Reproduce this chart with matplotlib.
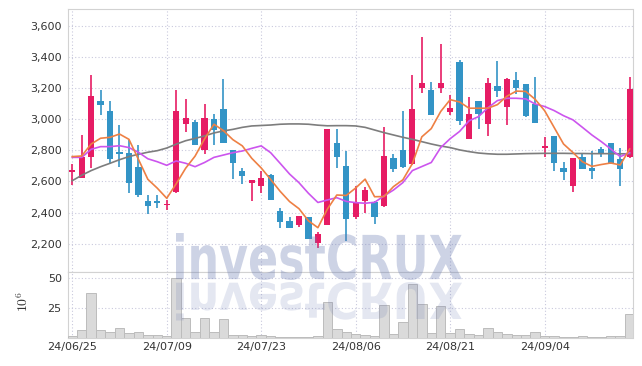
import matplotlib
matplotlib.use('Agg')
import matplotlib.pyplot as plt
from matplotlib.textpath import TextPath
from matplotlib.patches import PathPatch
from matplotlib.font_manager import FontProperties
from matplotlib.transforms import Affine2D
import numpy as np

# daily candles, 2024-06-25 .. 2024-09-20 (trading days only)
opens = [2660, 2625, 2760, 3115, 3055, 2785, 2785, 2695, 2475, 2475,
         2447, 2530, 2972, 2983, 2800, 3000, 3065, 2803, 2667, 2593,
         2573, 2642, 2410, 2346, 2322, 2370, 2207, 2322, 2850, 2702,
         2374, 2477, 2470, 2445, 2749, 2803, 2710, 3199, 3188, 3199,
         3049, 3366, 2871, 3118, 2972, 3214, 3081, 3253, 3227, 3098,
         2815, 2893, 2685, 2573, 2755, 2685, 2807, 2846, 2743, 2755]
highs = [2710, 2900, 3285, 3190, 3120, 2960, 2865, 2835, 2515, 2510,
         2480, 3185, 3128, 2995, 3095, 3032, 3260, 2805, 2685, 2610,
         2670, 2648, 2428, 2370, 2380, 2372, 2273, 2940, 2936, 2798,
         2573, 2562, 2472, 2953, 2775, 3053, 3285, 3527, 3238, 3482,
         3156, 3381, 3146, 3120, 3263, 3375, 3268, 3302, 3229, 3274,
         2888, 2895, 2728, 2750, 2785, 2798, 2824, 2848, 2813, 3274]
lows = [2580, 2620, 2685, 3025, 2715, 2695, 2525, 2500, 2390, 2430,
        2418, 2525, 2915, 2835, 2777, 2833, 2848, 2618, 2582, 2475,
        2528, 2480, 2300, 2300, 2310, 2228, 2170, 2318, 2685, 2217,
        2359, 2400, 2327, 2434, 2663, 2688, 2708, 3171, 3028, 3171,
        3028, 2963, 2870, 2935, 2893, 3141, 2963, 3163, 3013, 2977,
        2760, 2667, 2610, 2530, 2678, 2614, 2755, 2713, 2571, 2753]
closes = [2675, 2760, 3150, 3090, 2745, 2778, 2590, 2510, 2445, 2460,
          2455, 3055, 3008, 2837, 3008, 2930, 2850, 2722, 2637, 2607,
          2620, 2481, 2342, 2303, 2378, 2230, 2260, 2938, 2760, 2360,
          2470, 2545, 2374, 2764, 2683, 2690, 3066, 3231, 3030, 3231,
          3070, 2991, 3032, 3032, 3231, 3184, 3259, 3199, 3021, 2978,
          2820, 2721, 2663, 2749, 2680, 2670, 2781, 2717, 2680, 3195]

# volume in millions
volume = [1.4, 6.4, 37.4, 6.4, 4.4, 8.0, 3.5, 4.4, 1.8, 1.8,
          1.0, 50.0, 16.3, 4.4, 16.3, 4.4, 15.4, 2.5, 1.8, 1.4,
          1.8, 1.2, 0.8, 0.7, 0.6, 0.8, 0.9, 29.8, 6.9, 4.7,
          3.0, 2.1, 1.3, 27.5, 3.0, 13.2, 45.4, 28.3, 4.1, 27.1,
          3.5, 6.9, 3.0, 2.1, 8.0, 4.7, 3.0, 1.8, 1.8, 4.4,
          1.3, 1.0, 0.6, 0.8, 0.9, 0.8, 0.8, 1.0, 1.6, 19.7]

# moving averages as drawn
ma5 = [2760, 2764, 2841, 2878, 2884, 2905, 2871, 2743, 2614, 2557,
       2492, 2585, 2685, 2763, 2873, 2968, 2927, 2869, 2829, 2749,
       2687, 2613, 2537, 2471, 2425, 2347, 2303, 2422, 2513, 2510,
       2558, 2615, 2502, 2503, 2567, 2611, 2715, 2887, 2940, 3050,
       3126, 3111, 3071, 3071, 3071, 3094, 3148, 3181, 3179, 3128,
       3055, 2948, 2841, 2786, 2727, 2697, 2709, 2719, 2706, 2809]
ma20 = [2755, 2755, 2807, 2824, 2824, 2830, 2818, 2788, 2746, 2727,
        2704, 2732, 2717, 2695, 2722, 2755, 2770, 2785, 2796, 2813,
        2829, 2785, 2717, 2648, 2592, 2524, 2465, 2481, 2496, 2472,
        2464, 2460, 2466, 2507, 2545, 2593, 2670, 2696, 2722, 2818,
        2875, 2922, 2990, 3017, 3074, 3120, 3135, 3135, 3131, 3098,
        3082, 3056, 3023, 2996, 2948, 2899, 2856, 2809, 2760, 2785]
ma60 = [2605, 2640, 2670, 2695, 2717, 2740, 2760, 2775, 2788, 2798,
        2815, 2840, 2862, 2877, 2893, 2912, 2925, 2935, 2948, 2957,
        2960, 2963, 2968, 2970, 2970, 2968, 2962, 2958, 2959, 2959,
        2957, 2948, 2931, 2914, 2899, 2884, 2871, 2856, 2841, 2828,
        2818, 2803, 2792, 2783, 2778, 2775, 2775, 2777, 2779, 2780,
        2781, 2781, 2781, 2780, 2780, 2779, 2779, 2779, 2778, 2778]

tick_idx = [0, 10, 20, 30, 40, 50]
tick_labels = ['24/06/25', '24/07/09', '24/07/23', '24/08/06', '24/08/21', '24/09/04']

PINK = '#e61c64'
BLUE = '#3394c6'
GRID = '#c9c9dd'
SPINE = '#d2d2d2'

plt.rcParams['mathtext.fontset'] = 'cm'

W, H = 642, 366
fig = plt.figure(figsize=(W / 100, H / 100), dpi=100)
ax = fig.add_axes([68 / W, 1 - 272 / H, 564.5 / W, (272 - 9.3) / H])
axv = fig.add_axes([68 / W, 1 - 337.5 / H, 564.5 / W, 65.5 / H], sharex=ax)

x = np.arange(len(closes))
o = np.array(opens)
c = np.array(closes)
cols = np.where(c >= o, PINK, BLUE)

# candles
ax.vlines(x, lows, highs, colors=cols, linewidth=1.2, zorder=3)
ax.bar(x, np.maximum(np.abs(c - o), 10), bottom=np.minimum(o, c), width=0.66,
       color=cols, zorder=4)

# moving averages
ax.plot(x, ma60, color='#7d7d7d', linewidth=1.2, zorder=5)
ax.plot(x, ma20, color='#cc55ee', linewidth=1.2, zorder=5)
ax.plot(x, ma5, color='#ee8044', linewidth=1.2, zorder=5)

ax.set_xlim(-0.45, 59.3)
ax.set_ylim(2018, 3707)
ax.set_yticks(range(2200, 3601, 200))
ax.set_yticklabels([f'{v:,}' for v in range(2200, 3601, 200)])
ax.set_xticks(tick_idx)
ax.tick_params(axis='x', labelbottom=False, length=0)
ax.tick_params(axis='y', length=0, pad=4.5, labelsize=8, labelcolor='#333333')
ax.grid(True, linestyle=(0, (1, 2)), color=GRID, linewidth=0.8)
ax.set_axisbelow(True)

# volume
axv.bar(x, volume, width=1.0, color='#dadada', edgecolor='#bcbcbc', linewidth=0.7, zorder=3)
axv.set_ylim(0, 55.5)
axv.set_yticks([25, 50])
axv.set_xticks(tick_idx)
axv.set_xticklabels(tick_labels)
axv.tick_params(axis='x', length=0, pad=3, labelsize=8, labelcolor='#333333')
axv.tick_params(axis='y', length=0, pad=4.5, labelsize=8, labelcolor='#333333')
axv.grid(True, linestyle=(0, (1, 2)), color=GRID, linewidth=0.8)
axv.set_axisbelow(True)
axv.set_ylabel(r'$10^6$', fontsize=10, color='#333333')
axv.yaxis.set_label_coords(-0.066, 0.55)

for a in (ax, axv):
    for s in a.spines.values():
        s.set_color(SPINE)
        s.set_linewidth(0.8)

# watermark with reflection
fp = FontProperties(family='DejaVu Sans', weight='bold')
tp = TextPath((0, 0), 'investCRUX', size=100, prop=fp)
bb = tp.get_extents()
sx = 286 / bb.width
sy = 47 / bb.height
to_fig = Affine2D().scale(1 / W, 1 / H) + fig.transFigure
t_main = Affine2D().translate(-bb.x0, -bb.y0).scale(sx, sy).translate(176, 86)
t_refl = Affine2D().translate(-bb.x0, -bb.y0).scale(sx, -sy * 0.82).translate(176, 84)
fig.add_artist(PathPatch(tp, transform=t_main + to_fig, color='#6a7ab2',
                         alpha=0.33, lw=0, zorder=10))
fig.add_artist(PathPatch(tp, transform=t_refl + to_fig, color='#6a7ab2',
                         alpha=0.18, lw=0, zorder=10))

fig.savefig('out.png', dpi=100)
